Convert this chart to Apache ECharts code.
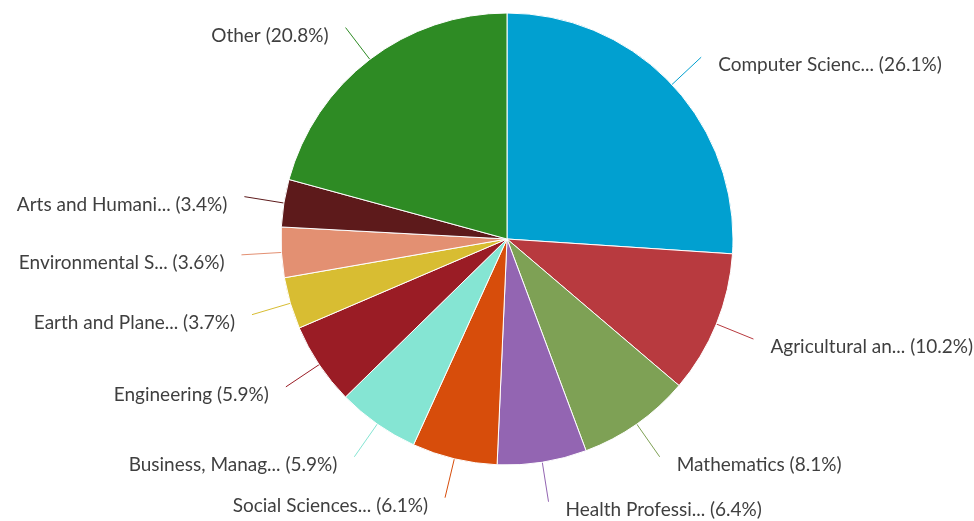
<!DOCTYPE html>
<html>
<head>
<meta charset="utf-8">
<script src="https://cdn.jsdelivr.net/npm/echarts@6/dist/echarts.min.js"></script>
<style>
html,body{margin:0;padding:0;background:#fff;}
#main{width:974px;height:521px;}
</style>
</head>
<body>
<div id="main"></div>
<script>
const categories = [
  'Computer Scienc...',
  'Agricultural an...',
  'Mathematics',
  'Health Professi...',
  'Social Sciences...',
  'Business, Manag...',
  'Engineering',
  'Earth and Plane...',
  'Environmental S...',
  'Arts and Humani...',
  'Other'
];
const values = [26.1, 10.2, 8.1, 6.4, 6.1, 5.9, 5.9, 3.7, 3.6, 3.4, 20.8];
const colors = [
  '#01a0d0', '#b83a3f', '#7ea155', '#9365b2', '#d74d0b', '#85e5d3',
  '#9a1c25', '#d8bd32', '#e39072', '#5d1a1b', '#2e8b24'
];

const chart = echarts.init(document.getElementById('main'));
chart.setOption({
  animation: false,
  backgroundColor: '#ffffff',
  series: [{
    type: 'pie',
    center: [507, 239],
    radius: 226,
    startAngle: 90,
    clockwise: true,
    avoidLabelOverlap: false,
    data: categories.map((c, i) => ({ name: c, value: values[i], itemStyle: { color: colors[i] } })),
    itemStyle: { borderColor: '#ffffff', borderWidth: 1 },
    label: {
      show: true,
      position: 'outside',
      formatter: p => '{s|}\n{t|' + p.name + ' (' + p.value + '%)}',
      fontFamily: 'Lato',
      color: '#3f3f3f',
      distanceToLabelLine: 17,
      rich: {
        s: { fontSize: 1, lineHeight: 16 },
        t: { fontSize: 19, lineHeight: 22, fontFamily: 'Lato', color: '#3f3f3f' }
      }
    },
    labelLine: {
      show: true,
      length: 40,
      length2: 0,
      lineStyle: { width: 1 }
    }
  }]
});
</script>
</body>
</html>
